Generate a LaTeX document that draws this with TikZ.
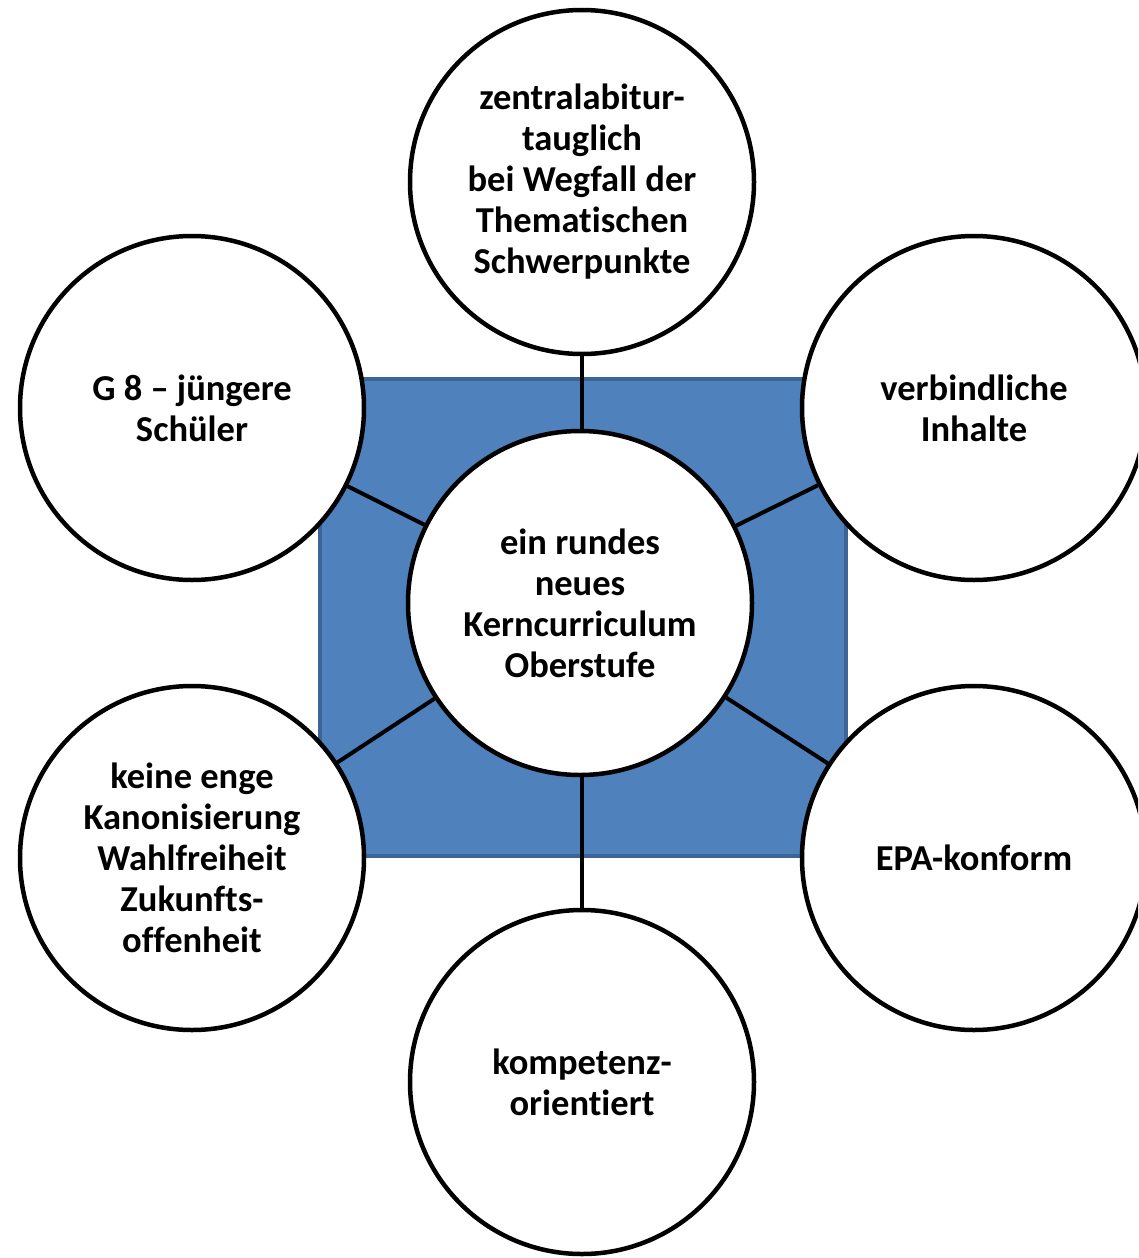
\documentclass[tikz,border=0pt]{standalone}
\usepackage{fontspec}
\setmainfont{Carlito}[RawFeature={-liga;-clig;-dlig}]
\definecolor{boxblue}{HTML}{4F81BD}
\definecolor{boxedge}{HTML}{3D6497}
\begin{document}
\begin{tikzpicture}[x=1pt,y=-1pt,
  bubble/.style={circle, draw=black, line width=4.5pt, fill=white, minimum size=344pt, inner sep=0pt,
    align=center, font=\fontsize{36.5}{41}\selectfont\bfseries},
  link/.style={line width=4pt, draw=black}]
\useasboundingbox (0,0) rectangle (1138,1258);
\clip (0,0) rectangle (1138,1258);
\fill[boxblue, draw=boxedge, line width=4pt] (320,379) rectangle (846,856);
\node[bubble] (c) at (580,603) {ein rundes\\neues\\Kerncurriculum\\Oberstufe};
\node[bubble] (t) at (582,182) {zentralabitur-\\tauglich\\bei Wegfall der\\Thematischen\\Schwerpunkte};
\node[bubble] (tl) at (192,408) {G 8 – jüngere\\Schüler};
\node[bubble] (tr) at (974,408) {verbindliche\\Inhalte};
\node[bubble] (bl) at (192,858) {keine enge\\Kanonisierung\\Wahlfreiheit\\Zukunfts-\\offenheit};
\node[bubble] (br) at (974,858) {EPA-konform};
\node[bubble] (b) at (582,1082) {kompetenz-\\orientiert};
\draw[link] (t.south) -- (t.south |- c.north);
\draw[link] (c) -- (tl);
\draw[link] (c) -- (tr);
\draw[link] (c) -- (bl);
\draw[link] (c) -- (br);
\draw[link] (b.north |- c.south) -- (b.north);
\end{tikzpicture}
\end{document}
